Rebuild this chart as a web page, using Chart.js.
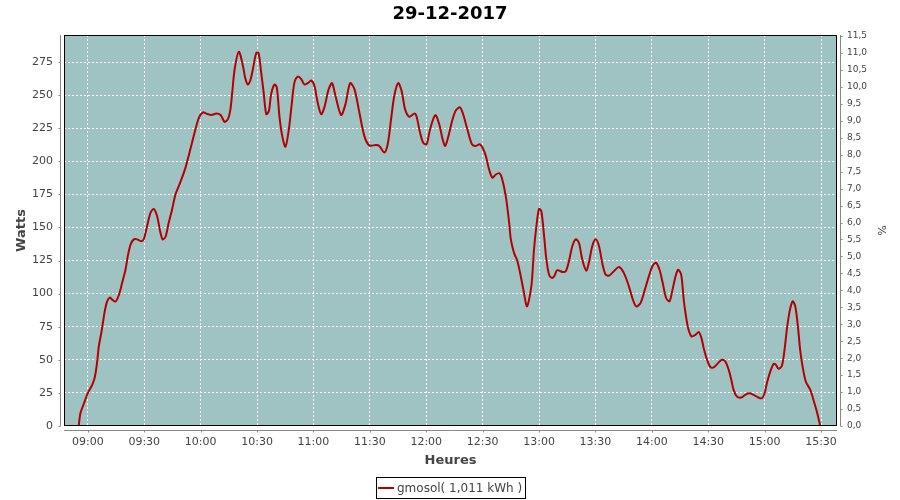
<!DOCTYPE html>
<html>
<head>
<meta charset="utf-8">
<script src="https://cdn.jsdelivr.net/npm/chart.js@4.4.1/dist/chart.umd.min.js"></script>
<style>
  html, body { margin: 0; background: #fff; }
</style>
</head>
<body>
<canvas id="chart" width="900" height="500"></canvas>
<script>
// Sample times (minutes after midnight) and power
const minutes = [
  535.1, 536.1, 537.9, 540.0, 542.3, 543.7, 544.9, 545.8, 547.1, 548.0,
  548.9, 550.2, 551.7, 552.9, 554.7, 556.5, 558.2, 560.0, 561.2, 562.7,
  564.4, 566.2, 568.3, 569.7, 571.5, 573.3, 575.0, 576.8, 578.6, 579.8,
  581.3, 583.0, 584.8, 586.6, 588.3, 590.1, 591.9, 593.6, 595.4, 597.2,
  599.1, 601.2, 603.0, 605.7, 608.3, 610.6, 612.7, 614.5, 615.8, 616.8,
  618.1, 620.3, 622.5, 623.7, 625.1, 626.4, 627.8, 629.6, 630.8, 632.2,
  633.5, 634.9, 636.3, 637.5, 639.3, 640.5, 641.9, 643.4, 645.1, 646.9,
  648.5, 649.9, 651.7, 653.5, 655.2, 657.0, 658.8, 660.5, 662.3, 664.1,
  665.8, 668.1, 669.9, 671.7, 674.7, 677.0, 679.5, 681.8, 684.4, 687.1,
  689.7, 693.3, 695.0, 697.7, 699.5, 701.3, 703.0, 705.1, 706.9, 708.8,
  711.0, 713.6, 714.8, 716.7, 718.4, 720.2, 722.0, 724.8, 726.9, 728.7,
  730.1, 731.8, 734.0, 735.8, 737.9, 739.6, 741.9, 744.3, 746.4, 748.5,
  749.9, 751.7, 753.4, 755.2, 757.0, 758.8, 760.2, 762.3, 764.1, 765.0,
  766.7, 768.5, 770.3, 772.0, 773.5, 774.7, 776.1, 777.3, 778.6, 780.0,
  781.2, 782.7, 783.9, 785.3, 786.7, 788.0, 789.7, 792.4, 794.2, 795.9,
  797.7, 799.5, 801.2, 803.0, 805.1, 806.5, 808.3, 810.1, 811.9, 813.6,
  815.4, 817.2, 819.8, 822.5, 825.1, 827.8, 829.9, 831.7, 834.0, 836.3,
  838.4, 840.5, 842.3, 844.1, 845.8, 847.6, 849.4, 850.8, 852.6, 854.0,
  855.6, 857.0, 857.9, 859.3, 861.1, 863.2, 865.0, 866.4, 867.6, 869.4,
  871.2, 872.9, 875.2, 877.3, 879.1, 880.9, 882.3, 883.5, 885.3, 887.6,
  889.7, 891.8, 894.2, 896.4, 898.6, 900.0, 901.2, 903.0, 904.8, 906.0,
  907.4, 909.2, 910.6, 911.8, 913.3, 914.9, 916.3, 917.7, 918.9, 920.2,
  921.9, 924.3, 926.0, 927.8, 929.6
];
const watts = [
  0, 10, 17, 25, 31, 37, 48, 60, 70, 78,
  86, 94, 97, 95.5, 94, 99, 108, 118, 128, 137,
  141, 141, 139.6, 141, 151, 161, 164, 158.6, 146, 141,
  143, 153.5, 163.6, 175, 181, 187.6, 195, 204, 214, 224,
  233, 237, 236, 235, 236, 235, 229.8, 231.8, 239, 252,
  269.7, 282.8, 272, 263, 258, 261, 269.7, 282, 281.8, 267,
  252, 235.6, 238, 250.8, 258, 255.8, 234, 219, 211, 224,
  244, 259.6, 264, 262, 258, 259, 261, 257, 244, 235.6,
  240.7, 254.5, 259, 249.5, 235, 243, 259, 254.5, 237, 219,
  212, 212.3, 211.6, 206.6, 212.9, 231.8, 249.5, 259, 253, 239,
  233.6, 236, 234, 221.7, 214, 212.9, 224, 234.8, 228, 216.7,
  211.6, 219, 231.8, 238.6, 240.7, 235.6, 224, 212.9, 211.6, 212.9,
  210.4, 204, 194, 187.6, 190, 191, 187.6, 173.7, 153.6, 141,
  130.8, 124.5, 113, 100.5, 90.4, 95.5, 108, 133, 151, 164,
  162.4, 143.4, 125.8, 114.4, 111.9, 113, 117.7, 116.4, 116.9, 124.5,
  135.8, 141, 138.4, 125.8, 117.4, 123.3, 135.8, 141, 135.8, 123.3,
  114.4, 113.6, 116.9, 120.2, 115.7, 105.5, 95.5, 90.4, 92.9, 103,
  113, 121.2, 123.3, 118, 108, 96.7, 94.2, 101.7, 113, 118,
  114.4, 95, 85.4, 74, 67.7, 68.9, 71, 66.4, 58.8, 50,
  44.4, 44.2, 47.5, 50, 48.7, 42.4, 34.8, 27.3, 22.2, 21.5,
  23.5, 24.7, 23.5, 21.7, 21, 24.7, 32.3, 41.1, 47, 46.2,
  43.2, 45.5, 57.6, 72.7, 86.6, 94.2, 90.4, 75.2, 57.6, 44.9,
  33.6, 27.3, 19.7, 10.8, 0
];
const seriesLabel = 'gmosol( 1,011 kWh )';
const chartTitle = '29-12-2017';

const FONT = "'DejaVu Sans', sans-serif";
const LINE = '#b40000';

function hhmm(m){
  const h = Math.floor(m / 60), mm = Math.round(m % 60);
  return String(h).padStart(2,'0') + ':' + String(mm).padStart(2,'0');
}

// plot background, frame, offset axis lines and the boxed legend
const frame = {
  id: 'frame',
  beforeDraw(chart){
    const {ctx, chartArea:a} = chart;
    ctx.save();
    ctx.fillStyle = '#9ec3c2';
    ctx.fillRect(a.left, a.top, a.right - a.left, a.bottom - a.top);
    ctx.restore();
  },
  afterDraw(chart){
    const {ctx, chartArea:a, scales} = chart;
    ctx.save();
    ctx.strokeStyle = '#000';
    ctx.lineWidth = 1;
    ctx.strokeRect(a.left + 0.5, a.top + 0.5, a.right - a.left - 1, a.bottom - a.top - 1);

    ctx.strokeStyle = '#888';
    ctx.beginPath();
    const lx = a.left - 3.5, rx = a.right + 3.5, by = a.bottom + 4.5;
    ctx.moveTo(lx, a.top); ctx.lineTo(lx, a.bottom);
    ctx.moveTo(rx, a.top); ctx.lineTo(rx, a.bottom);
    ctx.moveTo(a.left, by); ctx.lineTo(a.right, by);
    scales.y.ticks.forEach(t => { const p = Math.round(scales.y.getPixelForValue(t.value)) + 0.5; ctx.moveTo(lx - 2, p); ctx.lineTo(lx, p); });
    scales.y1.ticks.forEach(t => { const p = Math.round(scales.y1.getPixelForValue(t.value)) + 0.5; ctx.moveTo(rx, p); ctx.lineTo(rx + 2, p); });
    scales.x.ticks.forEach(t => { const p = Math.round(scales.x.getPixelForValue(t.value)) + 0.5; ctx.moveTo(p, by); ctx.lineTo(p, by + 2); });
    ctx.stroke();

    // legend box
    ctx.font = '12px ' + FONT;
    const tw = ctx.measureText(seriesLabel).width;
    const bw = Math.round(tw + 24), bx = Math.round(450 - bw / 2), bt = 477;
    ctx.strokeStyle = '#000';
    ctx.strokeRect(bx + 0.5, bt + 0.5, bw, 21);
    ctx.strokeStyle = LINE;
    ctx.lineWidth = 2;
    ctx.beginPath(); ctx.moveTo(bx + 2, bt + 11); ctx.lineTo(bx + 18, bt + 11); ctx.stroke();
    ctx.fillStyle = '#444';
    ctx.textBaseline = 'middle';
    ctx.fillText(seriesLabel, bx + 21, bt + 11.5);
    ctx.restore();
  }
};

new Chart(document.getElementById('chart'), {
  type: 'line',
  data: {
    datasets: [{
      label: seriesLabel,
      data: minutes.map((m, i) => ({x: m, y: watts[i]})),
      borderColor: LINE,
      borderWidth: 2,
      pointRadius: 0,
      tension: 0.3,
      fill: false,
      yAxisID: 'y'
    }]
  },
  options: {
    responsive: false,
    animation: false,
    layout: { padding: 0 },
    plugins: {
      legend: { display: false },
      tooltip: { enabled: false },
      title: {
        display: true, text: chartTitle, color: '#000',
        font: { family: FONT, size: 18, weight: 'bold', lineHeight: 1.2 },
        padding: { top: 4, bottom: 9.4 }
      }
    },
    scales: {
      x: {
        type: 'linear', position: 'bottom', min: 527.3, max: 938.5,
        afterFit: s => { s.height = 74; },
        grid: { color: '#fff', lineWidth: 1, drawTicks: false },
        border: { display: false, dash: [2, 2] },
        ticks: { stepSize: 30, includeBounds: false, autoSkip: false, maxRotation: 0, padding: 10,
                 color: '#444', font: { family: FONT, size: 11 }, callback: v => hhmm(v) },
        title: { display: true, text: 'Heures', color: '#444',
                 font: { family: FONT, size: 13, weight: 'bold', lineHeight: 1.2 }, padding: { top: 0, bottom: 32 } }
      },
      y: {
        position: 'left', min: 0, max: 295.4,
        afterFit: s => { s.width = 64; },
        grid: { color: '#fff', lineWidth: 1, drawTicks: false },
        border: { display: false, dash: [2, 2] },
        ticks: { stepSize: 25, includeBounds: false, padding: 11, color: '#444', font: { family: FONT, size: 11 } },
        title: { display: true, text: 'Watts', color: '#444',
                 font: { family: FONT, size: 13, weight: 'bold', lineHeight: 1.2 }, padding: { top: 14, bottom: 0 } }
      },
      y1: {
        position: 'right', min: 0, max: 11.53,
        afterFit: s => { s.width = 63; },
        grid: { display: false, drawTicks: false },
        border: { display: false },
        ticks: { stepSize: 0.5, includeBounds: false, padding: 10, color: '#444', font: { family: FONT, size: 9 },
                 callback: v => v.toFixed(1).replace('.', ',') },
        title: { display: true, text: '%', color: '#444',
                 font: { family: FONT, size: 11, lineHeight: 1.2 }, padding: { top: 13, bottom: 0 } }
      }
    }
  },
  plugins: [frame]
});
</script>
</body>
</html>
